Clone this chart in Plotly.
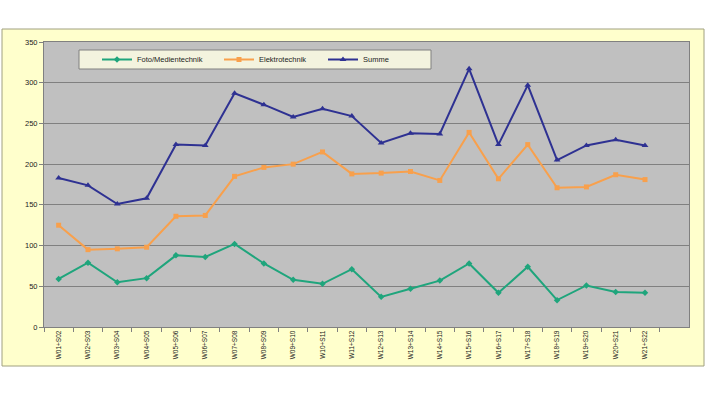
import plotly.graph_objects as go

categories = ["W01+S02", "W02+S03", "W03+S04", "W04+S05", "W05+S06", "W06+S07",
              "W07+S08", "W08+S09", "W09+S10", "W10+S11", "W11+S12", "W12+S13",
              "W13+S14", "W14+S15", "W15+S16", "W16+S17", "W17+S18", "W18+S19",
              "W19+S20", "W20+S21", "W21+S22"]
foto = [59, 79, 55, 60, 88, 86, 102, 78, 58, 53, 71, 37, 47, 57, 78, 42, 74, 33, 51, 43, 42]
elektro = [125, 95, 96, 98, 136, 137, 185, 196, 200, 215, 188, 189, 191, 180, 239, 182, 224, 171, 172, 187, 181]
summe = [183, 174, 151, 158, 224, 223, 287, 273, 258, 268, 259, 226, 238, 237, 317, 224, 297, 205, 223, 230, 223]
y_ticks = [0, 50, 100, 150, 200, 250, 300, 350]

W, H = 705, 397
L, R, T, B = 44, 16, 42, 70
pw, ph = W - L - R, H - T - B

def px_x(x):
    return (x - L) / pw

def px_y(y):
    return (H - B - y) / ph

FONT = "Liberation Sans, Arial, sans-serif"

fig = go.Figure()
fig.add_trace(go.Scatter(x=categories, y=foto, name="Foto/Medientechnik", mode="lines+markers",
                         line=dict(color="#1fa57c", width=2),
                         marker=dict(symbol="diamond", size=5, color="#1fa57c"),
                         legend="legend", showlegend=True))
fig.add_trace(go.Scatter(x=categories, y=elektro, name="Elektrotechnik", mode="lines+markers",
                         line=dict(color="#f8a04c", width=2),
                         marker=dict(symbol="square", size=5, color="#f8a04c"),
                         legend="legend2", showlegend=True))
fig.add_trace(go.Scatter(x=categories, y=summe, name="Summe", mode="lines+markers",
                         line=dict(color="#2e3192", width=2),
                         marker=dict(symbol="triangle-up", size=6, color="#2e3192"),
                         legend="legend3", showlegend=True))

leg_common = dict(bgcolor="rgba(0,0,0,0)", borderwidth=0, font=dict(family=FONT, size=7.5, color="#222"),
                  yanchor="middle", xanchor="left", y=px_y(59.5), itemwidth=30)
fig.update_layout(
    width=W, height=H,
    margin=dict(l=L, r=R, t=T, b=B),
    paper_bgcolor="white",
    plot_bgcolor="rgba(0,0,0,0)",
    showlegend=True,
    font=dict(family=FONT, size=8, color="#222"),
    legend=dict(x=px_x(137 - 40), **leg_common),
    legend2=dict(x=px_x(259 - 40), **leg_common),
    legend3=dict(x=px_x(363 - 40), **leg_common),
    xaxis=dict(type="category", range=[-0.5, 21.5], tickangle=-90, tickfont=dict(size=6.5),
               showline=True, linecolor="#808080", linewidth=1, mirror=True,
               ticks="outside", tickson="boundaries", ticklen=4, tickcolor="#808080",
               showgrid=False),
    yaxis=dict(range=[0, 350], tickvals=y_ticks, tickfont=dict(size=7.5),
               showline=True, linecolor="#808080", linewidth=1, mirror=True,
               ticks="outside", ticklen=4, tickcolor="#808080",
               showgrid=True, gridcolor="#808080", gridwidth=1, zeroline=False),
    shapes=[
        dict(type="rect", xref="paper", yref="paper", layer="below",
             x0=px_x(2), x1=px_x(704), y0=px_y(366), y1=px_y(29),
             fillcolor="#ffffcc", line=dict(color="#a0a080", width=1)),
        dict(type="rect", xref="paper", yref="paper", layer="below",
             x0=0, x1=1, y0=0, y1=1,
             fillcolor="#c0c0c0", line=dict(width=0)),
        dict(type="rect", xref="paper", yref="paper", layer="above",
             x0=px_x(79), x1=px_x(431), y0=px_y(69), y1=px_y(50),
             fillcolor="#f3f3de", line=dict(color="#808080", width=1)),
    ],
)

fig.write_html("out.html", config={"displayModeBar": False},
               post_script="document.body.style.margin='0px';")
